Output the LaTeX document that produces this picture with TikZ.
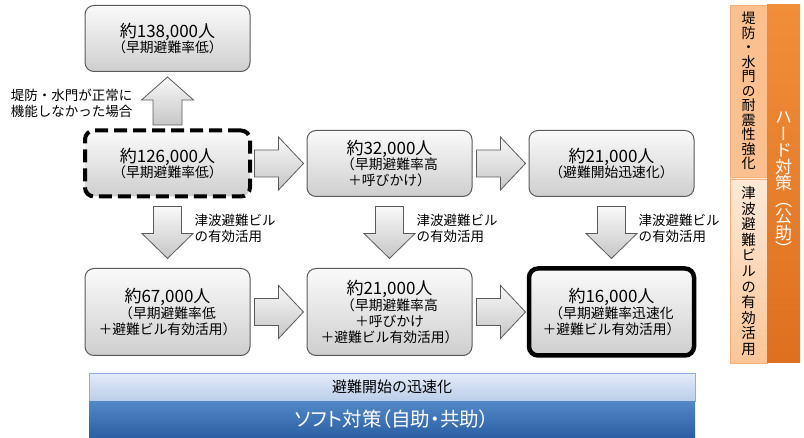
\documentclass[tikz,border=0pt]{standalone}
\usepackage{fontspec}
\setmainfont{Noto Sans CJK JP}
\newfontfamily\jpvert{Noto Sans CJK JP}[RawFeature=+vert]
\newfontfamily\jpprop{Noto Sans CJK JP}[RawFeature=+palt]
\usepackage{tikz}
\usetikzlibrary{positioning,calc}

\definecolor{boxline}{RGB}{90,90,90}
\definecolor{dikefill}{RGB}{250,192,143}
\definecolor{dikeline}{RGB}{246,175,118}
\definecolor{bldgtop}{RGB}{253,233,216}
\definecolor{bldgbot}{RGB}{250,198,152}
\definecolor{hardtop}{RGB}{241,142,58}
\definecolor{hardbot}{RGB}{222,112,32}
\definecolor{speedtop}{RGB}{228,236,248}
\definecolor{speedbot}{RGB}{186,205,233}
\definecolor{speedline}{RGB}{142,174,219}
\definecolor{softtop}{RGB}{82,136,200}
\definecolor{softbot}{RGB}{44,96,164}

\newcommand{\popn}[1]{{\fontsize{17}{20}\selectfont #1}}

\begin{document}
\begin{tikzpicture}[
    x=1pt, y=1pt,
    node distance=57pt,
    box/.style={rectangle, draw=boxline, line width=1pt, rounded corners=9pt, top color=gray!4, bottom color=gray!38, minimum width=165pt, minimum height=66pt, align=center, outer sep=0pt, inner sep=2pt, font=\fontsize{13.8}{15.8}\selectfont},
    tallbox/.style={box, minimum height=87pt},
    worstbox/.style={box, draw=black, line width=4pt, dash pattern=on 13pt off 6pt},
    bestbox/.style={tallbox, draw=black, line width=4.5pt},
    fatarr/.style={draw=boxline, line width=0.8pt, top color=gray!5, bottom color=gray!45},
    lbl/.style={align=left, font=\fontsize{13.5}{16}\selectfont, inner sep=0pt},
    vcol/.style={rectangle, minimum width=37pt, align=center, inner sep=0pt, outer sep=0pt},
    arrright/.pic={\path[fatarr] (-24,-13.5) -- (0,-13.5) -- (0,-26.5) -- (25,0) -- (0,26.5) -- (0,13.5) -- (-24,13.5) -- cycle;},
    arrup/.pic={\path[fatarr] (-14.5,-24) -- (-14.5,1) -- (-26,1) -- (0,24) -- (26,1) -- (14.5,1) -- (14.5,-24) -- cycle;},
    arrdown/.pic={\path[fatarr] (-14,26) -- (-14,-1) -- (-25.5,-1) -- (0,-26) -- (25.5,-1) -- (14,-1) -- (14,26) -- cycle;}
]
    \useasboundingbox (0,0) rectangle (804,437);

    % Upper row
    \node[worstbox] (base) at (167.5,273.5) {\popn{約126,000人}\\（早期避難率低）};
    \node[box, above=59pt of base] (failed) {\popn{約138,000人}\\（早期避難率低）};
    \node[box, right=of base] (call) {\popn{約32,000人}\\（早期避難率高\\＋呼びかけ）};
    \node[box, right=of call] (quick) {\popn{約21,000人}\\（避難開始迅速化）};

    % Lower row
    \node[tallbox, below=72pt of base] (bldg) {\popn{約67,000人}\\（早期避難率低\\＋避難ビル有効活用）};
    \node[tallbox, right=of bldg] (callbldg) {\popn{約21,000人}\\（早期避難率高\\＋呼びかけ\\＋避難ビル有効活用）};
    \node[bestbox, right=of callbldg] (best) {\popn{約16,000人}\\（早期避難率迅速化\\＋避難ビル有効活用）};

    % Block arrows
    \coordinate (up1) at ($(base.north)!0.5!(failed.south)$);
    \coordinate (r1) at ($(base.east)!0.5!(call.west)$);
    \coordinate (r2) at ($(call.east)!0.5!(quick.west)$);
    \coordinate (r3) at ($(bldg.east)!0.5!(callbldg.west)$);
    \coordinate (r4) at ($(callbldg.east)!0.5!(best.west)$);
    \coordinate (d1) at ($(base.south)!0.5!(bldg.north)$);
    \coordinate (d2) at ($(call.south)!0.5!(callbldg.north)$);
    \coordinate (d3) at ($(quick.south)!0.5!(best.north)$);
    \pic at (up1) {arrup};
    \foreach \c in {r1,r2,r3,r4} \pic at (\c) {arrright};
    \foreach \c in {d1,d2,d3} \pic at (\c) {arrdown};

    % Arrow labels
    \node[lbl, anchor=east] (faillbl) at ($(up1)+(-35,-2)$) {堤防・水門が正常に\\機能しなかった場合};
    \foreach \c/\n in {d1/bl1,d2/bl2,d3/bl3}
        \node[lbl, anchor=west] (\n) at ($(\c)+(27,4)$) {津波避難ビル\\の有効活用};

    % Hard measures (right)
    \node[vcol, fill=dikefill, draw=dikeline, line width=0.6pt, minimum height=172pt, font=\fontsize{14}{14.5}\jpvert] (dike) at (748.5,346) {堤\\防\\・\\水\\門\\の\\耐\\震\\性\\強\\化};
    \node[vcol, top color=bldgtop, bottom color=bldgbot, draw=dikeline, line width=0.6pt, minimum height=184pt, font=\fontsize{14.5}{15.6}\jpvert, below=2pt of dike] (tsunami) {津\\波\\避\\難\\ビ\\ル\\の\\有\\効\\活\\用};
    \node[vcol, minimum width=33pt, minimum height=358pt, top color=hardtop, bottom color=hardbot, text=white, font=\fontsize{17}{16.5}\jpvert] (hard) at (783.5,253) {ハ\\ー\\ド\\対\\策\\（\\公\\助\\）};

    % Soft measures (bottom)
    \node[rectangle, minimum width=606pt, minimum height=28pt, top color=speedtop, bottom color=speedbot, draw=speedline, line width=0.6pt, inner sep=0pt, outer sep=0pt, font=\fontsize{15}{17}\selectfont] (speed) at (392,50) {避難開始の迅速化};
    \node[rectangle, minimum width=606pt, minimum height=36pt, top color=softtop, bottom color=softbot, text=white, inner sep=0pt, outer sep=0pt, font=\fontsize{19.5}{21}\jpprop, below=0pt of speed] (soft) {ソフト対策（自助・共助）};

\end{tikzpicture}
\end{document}
